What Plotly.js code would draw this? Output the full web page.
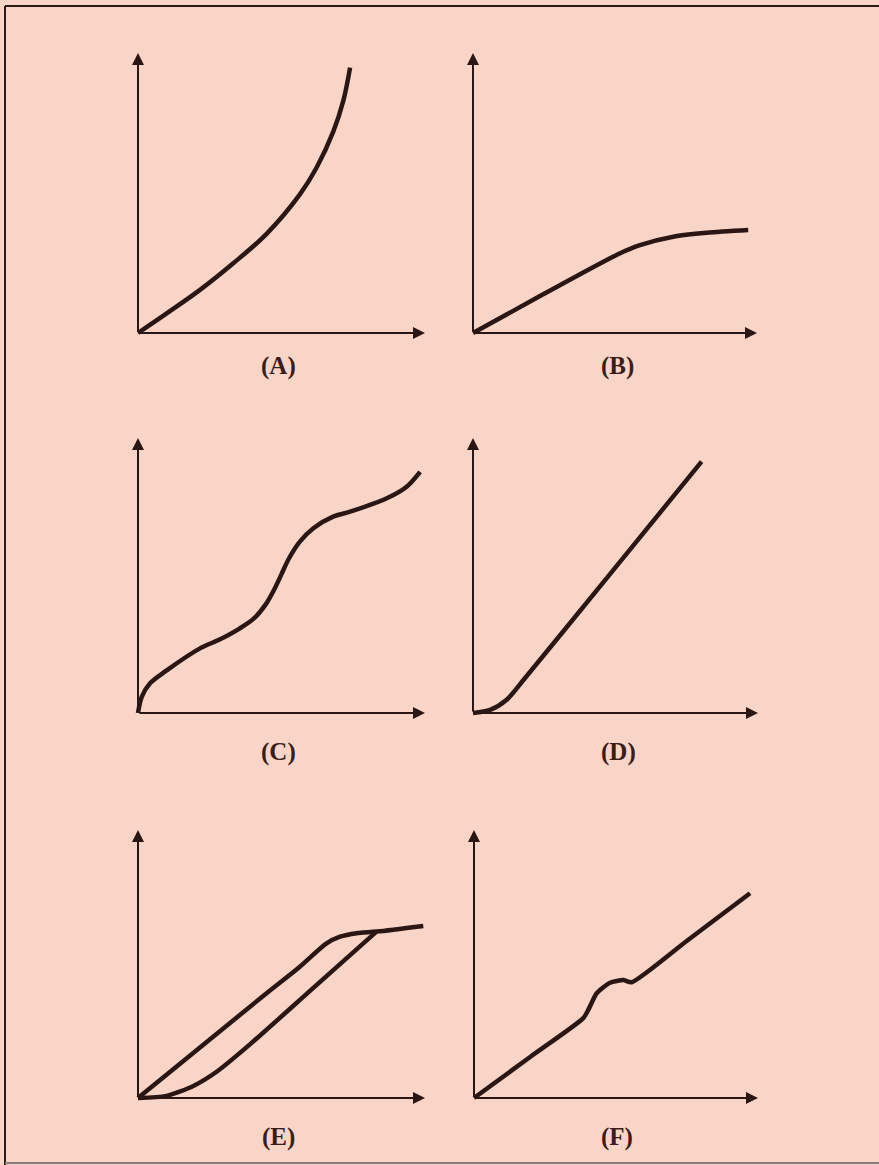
<!DOCTYPE html>
<html>
<head>
<meta charset="utf-8">
<script src="https://cdn.plot.ly/plotly-3.0.1.min.js"></script>
<style>html,body{margin:0;padding:0;background:#f9d5c8;}#chart{width:879px;height:1165px;}</style>
</head>
<body>
<div id="chart"></div>
<script>
// ---- Data (arbitrary units, axes run from 0 to 10) ----
const panelLabels = ["(A)", "(B)", "(C)", "(D)", "(E)", "(F)"];

const aX = [0, 1.0, 2.16, 3.32, 4.48, 5.64, 6.22, 6.81, 7.15, 7.39];
const aY = [0, 0.70, 1.54, 2.49, 3.54, 4.95, 5.90, 7.21, 8.28, 9.48];

const bX = [0, 2.36, 5.18, 5.88, 7.05, 8.23, 9.69];
const bY = [0, 1.32, 2.85, 3.14, 3.44, 3.58, 3.68];

const cX = [0, 0.13, 0.42, 1.0, 2.16, 2.86, 3.55, 4.05, 4.45, 4.75, 5.0, 5.25, 5.64, 6.11, 6.8, 7.39, 8.67, 9.36, 9.83];
const cY = [0, 0.59, 1.08, 1.55, 2.35, 2.68, 3.08, 3.45, 3.95, 4.50, 5.05, 5.60, 6.23, 6.72, 7.14, 7.32, 7.81, 8.23, 8.77];

const dX = [0, 0.6, 1.17, 1.77, 4.9, 8.02];
const dY = [0, 0.11, 0.47, 1.20, 5.17, 9.14];

const eUpperX = [0, 4.48, 5.64, 6.57, 7.04, 7.62, 8.32, 9.94];
const eUpperY = [0, 3.91, 4.90, 5.77, 6.02, 6.15, 6.21, 6.42];
const eLowerX = [0, 1.0, 1.93, 2.74, 3.9, 6.1, 8.3];
const eLowerY = [0, 0.08, 0.45, 0.98, 2.0, 4.1, 6.2];

const fX = [0, 2.0, 3.84, 4.02, 4.32, 4.79, 5.26, 5.55, 7.5, 9.72];
const fY = [0, 1.55, 2.97, 3.28, 3.91, 4.30, 4.40, 4.32, 5.87, 7.64];

const curves = [
  {p: 0, x: aX, y: aY, s: 1.0},
  {p: 1, x: bX, y: bY, s: 0.8},
  {p: 2, x: cX, y: cY, s: 0.9},
  {p: 3, x: dX, y: dY, s: 0.8},
  {p: 4, x: eUpperX, y: eUpperY, s: 0.8},
  {p: 4, x: eLowerX, y: eLowerY, s: 0.7},
  {p: 5, x: fX, y: fY, s: 0.6}
];

// ---- Layout geometry (pixels) ----
const W = 879, H = 1165;
const geom = [
  {ox: 138, oy: 333, xt: 425, yt: 53,  lx: 278, ly: 366},
  {ox: 473, oy: 333, xt: 757, yt: 53,  lx: 617, ly: 366},
  {ox: 138, oy: 713, xt: 425, yt: 438, lx: 278, ly: 752},
  {ox: 473, oy: 713, xt: 758, yt: 438, lx: 618, ly: 752},
  {ox: 138, oy: 1098, xt: 425, yt: 830, lx: 278, ly: 1137},
  {ox: 474, oy: 1098, xt: 758, yt: 830, lx: 617, ly: 1137}
];
const PAD = 0.6;
const INK = "#2a1715";
const BG = "#f9d5c8";

const layout = {
  width: W, height: H,
  margin: {l: 0, r: 0, t: 0, b: 0, pad: 0},
  paper_bgcolor: BG, plot_bgcolor: "rgba(0,0,0,0)",
  showlegend: false,
  annotations: [], shapes: []
};

geom.forEach((g, i) => {
  const n = i + 1;
  const ux = (g.xt - g.ox) / 10, uy = (g.oy - g.yt) / 10;
  const xa = "xaxis" + (n === 1 ? "" : n), ya = "yaxis" + (n === 1 ? "" : n);
  const xr = "x" + (n === 1 ? "" : n), yr = "y" + (n === 1 ? "" : n);
  layout[xa] = {domain: [(g.ox - PAD * ux) / W, (g.xt + PAD * ux) / W], range: [-PAD, 10 + PAD],
                visible: false, fixedrange: true, anchor: yr};
  layout[ya] = {domain: [1 - (g.oy + PAD * uy) / H, 1 - (g.yt - PAD * uy) / H], range: [-PAD, 10 + PAD],
                visible: false, fixedrange: true, anchor: xr};
  // axis arrows
  layout.annotations.push({xref: xr, yref: yr, axref: xr, ayref: yr, x: 10, y: 0, ax: 0, ay: 0,
    text: "", showarrow: true, arrowhead: 2, arrowsize: 1.2, arrowwidth: 2, arrowcolor: INK, standoff: 0, startstandoff: 0});
  layout.annotations.push({xref: xr, yref: yr, axref: xr, ayref: yr, x: 0, y: 10, ax: 0, ay: 0,
    text: "", showarrow: true, arrowhead: 2, arrowsize: 1.2, arrowwidth: 2, arrowcolor: INK, standoff: 0, startstandoff: 0});
  // panel label
  layout.annotations.push({xref: "paper", yref: "paper", x: g.lx / W, y: 1 - g.ly / H,
    xanchor: "center", yanchor: "middle", showarrow: false, text: "<b>" + panelLabels[i] + "</b>",
    font: {family: "Liberation Serif, Times New Roman, serif", size: 25, color: "#3a1d1a"}});
});

// page frame (scanned page edges)
layout.shapes.push({type: "line", xref: "paper", yref: "paper", x0: 5 / W, x1: 5 / W, y0: 0, y1: 1 - 6 / H,
  line: {color: "#2a1a18", width: 2}});
layout.shapes.push({type: "line", xref: "paper", yref: "paper", x0: 5 / W, x1: 1, y0: 1 - 6 / H, y1: 1 - 6 / H,
  line: {color: "#2a1a18", width: 2}});
layout.shapes.push({type: "line", xref: "paper", yref: "paper", x0: 5 / W, x1: 1, y0: 1 - 1163 / H, y1: 1 - 1163 / H,
  line: {color: "#8a7a78", width: 2}});

const traces = curves.map(c => {
  const n = c.p + 1;
  return {
    type: "scatter", mode: "lines", x: c.x, y: c.y,
    xaxis: "x" + (n === 1 ? "" : n), yaxis: "y" + (n === 1 ? "" : n),
    line: {color: INK, width: 4.5, shape: "spline", smoothing: c.s},
    hoverinfo: "skip"
  };
});

Plotly.newPlot("chart", traces, layout, {staticPlot: true, displayModeBar: false});
</script>
</body>
</html>
